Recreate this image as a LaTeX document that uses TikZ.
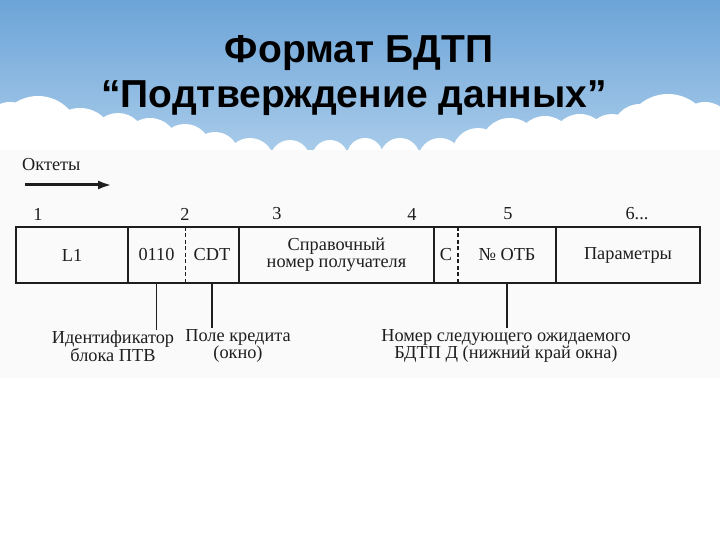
\documentclass[tikz,border=0pt]{standalone}
\usepackage{fontspec}
\setmainfont{Liberation Serif}
\newfontfamily\headfont{Liberation Sans}
\usetikzlibrary{arrows.meta}

\definecolor{skytop}{RGB}{108,164,216}
\definecolor{skylow}{RGB}{176,208,236}
\definecolor{scanbg}{RGB}{250,250,250}
\definecolor{ink}{RGB}{30,30,30}

\tikzset{
  field/.style={inner sep=0pt, minimum height=56, font=\fontsize{18.3}{17}\selectfont},
  octnum/.style={inner sep=1pt, font=\fontsize{18.3}{18}\selectfont},
  note/.style={align=center, inner sep=1pt, font=\fontsize{18.3}{17.5}\selectfont},
  headline/.style={anchor=base, font=\headfont\bfseries\fontsize{39}{39}\selectfont},
  puff/.style={fill=white, draw=none},
  frame/.style={line width=2.4},
  leader/.style={line width=1.3},
  split/.style={line width=1.3, dash pattern=on 4 off 2.5},
}

\begin{document}
\begin{tikzpicture}[x=1pt, y=-1pt]
  \useasboundingbox (0,0) rectangle (720,540);

  % slide background: sky, clouds, scanned sheet
  \fill[white] (0,0) rectangle (720,540);
  \shade[top color=skytop, bottom color=skylow] (0,0) rectangle (720,170);
  \foreach \cx/\cy/\r in {10/130/28, 38/138/42, 80/142/34, 118/140/27, 150/146/28,
      185/150/26, 215/156/24, 250/162/24, 290/160/20, 330/158/18, 365/156/18,
      400/158/20, 440/160/22, 478/154/26, 510/148/30, 545/144/28, 580/142/28,
      612/140/26, 640/132/28, 668/138/44, 705/130/28}
    \fill[puff] (\cx,\cy) circle (\r);
  \fill[scanbg] (0,150) rectangle (720,378);

  % title
  \node[headline] (titlea) at (359,63) {Формат БДТП};
  \node[headline] (titleb) at (354,108) {“Подтверждение данных”};

  \begin{scope}[ink]
  % octet direction
  \node[octnum, anchor=west] (octlbl) at (21,165) {Октеты};
  \coordinate (arrs) at (25,185);
  \coordinate (arre) at (112,185);
  \draw[line width=3, -{Latex[length=14, width=9]}] (arrs) -- (arre);

  % octet numbers
  \node[octnum] (oa) at (38,214) {1};
  \node[octnum] (ob) at (185,214) {2};
  \node[octnum] (oc) at (277,214) {3};
  \node[octnum] (od) at (412,214) {4};
  \node[octnum] (oe) at (508,214) {5};
  \node[octnum] (of) at (637,214) {6...};

  % fields
  \node[field, minimum width=112] (lone) at (72,255) {L1};
  \node[field, minimum width=57] (idf) at (156.5,255) {0110};
  \node[field, minimum width=54] (cdt) at (212,255) {CDT};
  \node[field, minimum width=195, align=center] (ref) at (336.5,255) {Справочный\\номер получателя};
  \node[field, minimum width=24] (cbit) at (446,255) {C};
  \node[field, minimum width=98] (otb) at (507,255) {№ ОТБ};
  \node[field, minimum width=144] (param) at (628,255) {Параметры};

  \draw[frame] (lone.north west) rectangle (param.south east);
  \foreach \n in {lone, cdt, ref, otb}
    \draw[frame] (\n.north east) -- (\n.south east);
  \draw[split] (idf.north east) -- (idf.south east);
  \draw[split, line width=1.6] (cbit.north east) -- (cbit.south east);

  % notes
  \node[note] (idlbl) at (113,346) {Идентификатор\\блока ПТВ};
  \node[note] (crlbl) at (238,346) {Поле кредита\\(окно)};
  \node[note] (nxlbl) at (506,346) {Номер следующего ожидаемого\\БДТП Д (нижний край окна)};

  \draw[leader] (idf.south) -- (idf.south |- idlbl.north);
  \draw[leader] (cdt.south) -- (cdt.south |- crlbl.north);
  \draw[leader] (otb.south) -- (otb.south |- nxlbl.north);
  \end{scope}
\end{tikzpicture}
\end{document}
